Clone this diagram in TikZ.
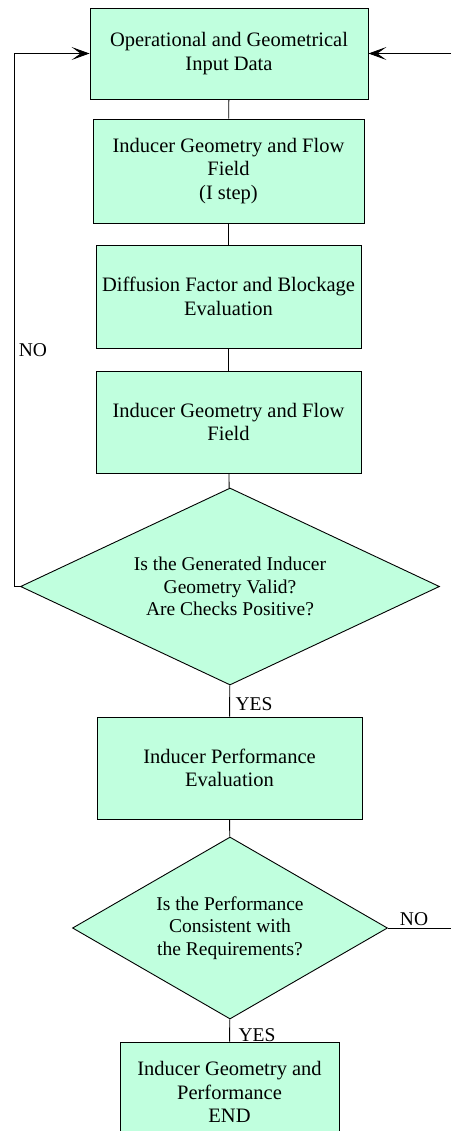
\documentclass[tikz,border=0pt]{standalone}
\usepackage{fontspec}
\setmainfont{Liberation Serif}
\usetikzlibrary{shapes.geometric,arrows.meta}
\definecolor{mint}{RGB}{192,255,222}

\begin{document}
\begin{tikzpicture}[x=1pt,y=-1pt,line width=0.9pt,
	block/.style={draw,fill=mint,rectangle,align=center,inner sep=0pt,font=\fontsize{20.5}{23.5}\selectfont},
	decision/.style={draw,fill=mint,diamond,aspect=2.2,align=center,inner sep=0pt,font=\fontsize{19.5}{22.5}\selectfont},
	lbl/.style={font=\fontsize{19.5}{22}\selectfont,anchor=base,inner sep=0pt},
	>={Stealth[length=18pt,width=13pt,inset=9pt]}]
	\useasboundingbox (0,0) rectangle (451,1131);

	\node[block,minimum width=278,minimum height=91] (input) at (229,53.5) {Operational and Geometrical\\Input Data};
	\node[block,minimum width=271,minimum height=104] (geom1) at (228.5,171) {Inducer Geometry and Flow\\Field\\(I step)};
	\node[block,minimum width=265,minimum height=103] (diff) at (228.5,296.5) {Diffusion Factor and Blockage\\Evaluation};
	\node[block,minimum width=265,minimum height=102] (geom2) at (228.5,422) {Inducer Geometry and Flow\\Field};
	\node[decision,minimum width=419,minimum height=197] (valid) at (230,586.5) {Is the Generated Inducer\\Geometry Valid?\\Are Checks Positive?};
	\node[block,minimum width=265,minimum height=102] (perf) at (229.5,768) {Inducer Performance\\Evaluation};
	\node[decision,minimum width=315,minimum height=182] (req) at (230,928) {Is the Performance\\Consistent with\\the Requirements?};
	\node[block,minimum width=219,minimum height=100] (final) at (229.5,1092) {Inducer Geometry and\\Performance\\END};

	\coordinate (loopL) at (14,586.5);
	\coordinate (inR) at (451,53.5);
	\coordinate (outR) at (451,928);

	\draw (input) -- (geom1);
	\draw (geom1) -- (diff);
	\draw (diff) -- (geom2);
	\draw (geom2) -- (valid);
	\draw (valid) -- (perf);
	\draw (perf) -- (req);
	\draw (req) -- (final);

	% loop back and outside input
	\draw[->] (valid.west) -- (loopL) |- (input.west);
	\draw[->] (inR) -- (input.east);
	\draw (req.east) -- (outR);

	\node[lbl] (noL) at (33,356) {NO};
	\node[lbl] (yes1) at (254,710) {YES};
	\node[lbl] (noR) at (414,925) {NO};
	\node[lbl] (yes2) at (257,1041) {YES};
\end{tikzpicture}
\end{document}
